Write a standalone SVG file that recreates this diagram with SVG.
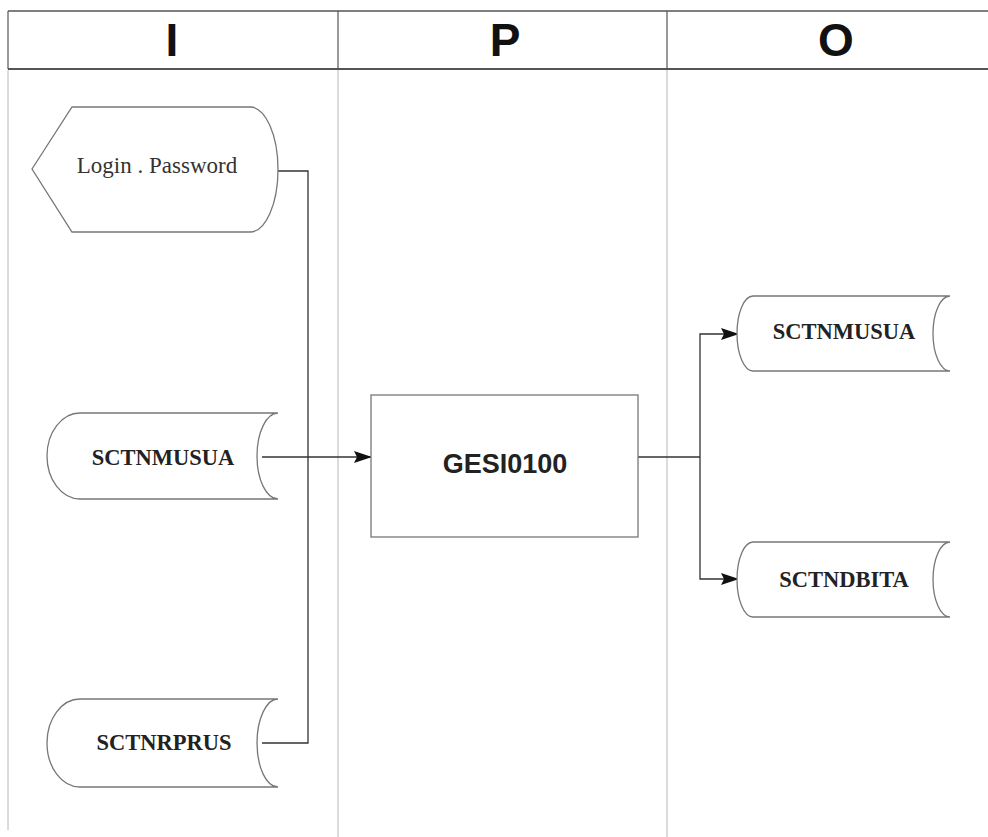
<svg xmlns="http://www.w3.org/2000/svg" width="988" height="837" viewBox="0 0 988 837">
<style>
.lane{stroke:#b8b8b8;stroke-width:1;fill:none}
.hdr{stroke:#555;fill:none}
.hl{font-family:"Liberation Sans",Arial,sans-serif;font-weight:bold;font-size:46px;fill:#111;text-anchor:middle}
.shape{fill:#fff;stroke:#777;stroke-width:1.3}
.lbl{font-family:"Liberation Serif","Times New Roman",serif;font-size:23px;fill:#333;text-anchor:middle}
.blbl{font-family:"Liberation Serif","Times New Roman",serif;font-weight:bold;font-size:22.5px;fill:#222;text-anchor:middle}
.plbl{font-family:"Liberation Sans",Arial,sans-serif;font-weight:bold;font-size:27px;fill:#222;text-anchor:middle}
.conn{stroke:#333;stroke-width:1.3;fill:none}
</style>
<defs>
<marker id="arr" markerWidth="18" markerHeight="12" refX="17" refY="6" orient="auto" markerUnits="userSpaceOnUse">
<path d="M0,0 L18,6 L0,12 L3,6 Z" fill="#111"/>
</marker>
</defs>
<rect width="988" height="837" fill="#fff"/>
<g id="lanes">
<line class="lane" x1="8" y1="70" x2="8" y2="830"/>
<line class="lane" x1="338" y1="70" x2="338" y2="837"/>
<line class="lane" x1="667" y1="70" x2="667" y2="837"/>
</g>
<g id="header">
<line class="hdr" x1="8" y1="11" x2="988" y2="11" stroke-width="1.6"/>
<line class="hdr" x1="8" y1="69" x2="988" y2="69" stroke-width="2.2"/>
<line class="hdr" x1="8" y1="11" x2="8" y2="69" stroke-width="1.2"/>
<line class="hdr" x1="338" y1="11" x2="338" y2="69" stroke-width="1.2"/>
<line class="hdr" x1="667" y1="11" x2="667" y2="69" stroke-width="1.2"/>
<text class="hl" x="172" y="56">I</text>
<text class="hl" x="505" y="56">P</text>
<text class="hl" x="836" y="56">O</text>
</g>
<g id="connectors">
<path class="conn" d="M278,171 H308 V457"/>
<path class="conn" d="M262,743 H308 V457"/>
<path class="conn" d="M262,457 H371" marker-end="url(#arr)"/>
<path class="conn" d="M638,457 H700"/>
<path class="conn" d="M700,457 V334 H738" marker-end="url(#arr)"/>
<path class="conn" d="M700,457 V579 H738" marker-end="url(#arr)"/>
</g>
<g id="login">
<path class="shape" d="M32,169 L72,107 H250 A28 62.5 0 0 1 250,232 H72 Z"/>
<text class="lbl" x="157" y="173">Login . Password</text>
</g>
<g id="in-sctnmusua">
<path class="shape" d="M80,413 H278 A21 43 0 0 0 278,499 H80 A33 43 0 0 1 80,413 Z"/>
<text class="blbl" x="163" y="465">SCTNMUSUA</text>
</g>
<g id="in-sctnrprus">
<path class="shape" d="M80,699 H278 A21 44 0 0 0 278,787 H80 A33 44 0 0 1 80,699 Z"/>
<text class="blbl" x="164" y="750">SCTNRPRUS</text>
</g>
<g id="gesi0100">
<rect class="shape" x="371" y="395" width="267" height="142"/>
<text class="plbl" x="505" y="473">GESI0100</text>
</g>
<g id="out-sctnmusua">
<path class="shape" d="M753,296 H950 A17 37.5 0 0 0 950,371 H753 A16 37.5 0 0 1 753,296 Z"/>
<text class="blbl" x="844" y="339">SCTNMUSUA</text>
</g>
<g id="out-sctndbita">
<path class="shape" d="M753,542 H950 A17 37.5 0 0 0 950,617 H753 A16 37.5 0 0 1 753,542 Z"/>
<text class="blbl" x="844" y="587">SCTNDBITA</text>
</g>
</svg>
